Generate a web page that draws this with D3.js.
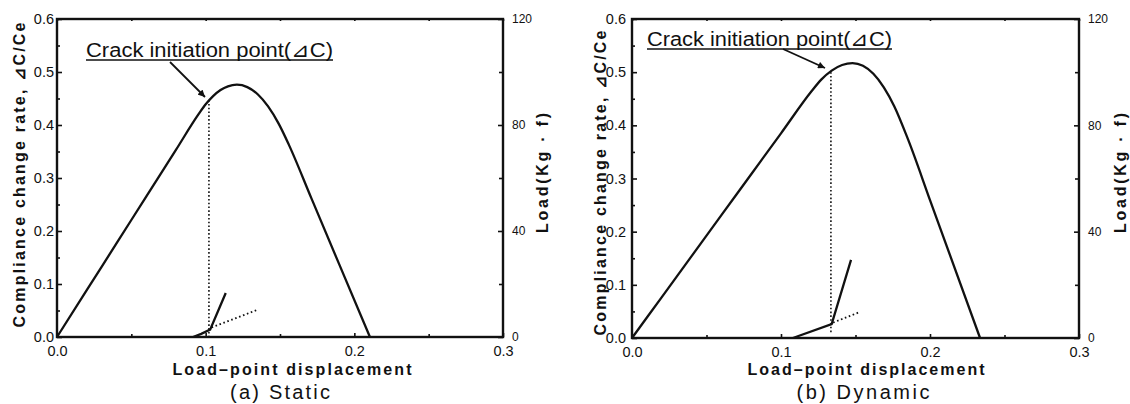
<!DOCTYPE html>
<html>
<head>
<meta charset="utf-8">
<script src="https://cdn.jsdelivr.net/npm/d3@7"></script>
<style>
  body { margin: 0; background: #fff; }
  svg { display: block; }
  text { font-family: "Liberation Sans", Arial, sans-serif; fill: #111; }
  .tick line { stroke: #111; stroke-width: 1.6; }
</style>
</head>
<body>
<div id="chart"></div>
<script>
// axis ticks
const dispTicks = [0, 0.1, 0.2, 0.3];
const dispMinor = [0.05, 0.15, 0.25];
const compTicks = [0, 0.1, 0.2, 0.3, 0.4, 0.5, 0.6];
const compMinor = [0.05, 0.15, 0.25, 0.35, 0.45, 0.55];
const loadTicks = [0, 40, 80, 120];
const loadMinor = [20, 60, 100];

// (a) static : load curve (kg f) vs load-point displacement
const staticDisp = [0, 0.02, 0.04, 0.06, 0.08, 0.095, 0.1, 0.105, 0.11, 0.115, 0.121, 0.128, 0.135, 0.142, 0.149, 0.156, 0.171, 0.19, 0.2105];
const staticLoad = [0, 17.7, 35.3, 53, 70.6, 83.9, 87.8, 90.9, 93.2, 94.6, 95.2, 94.3, 91.6, 87, 80.6, 72.5, 52.5, 27.2, 0];
// compliance change rate curve and its tangent
const staticCompDisp = [0.0915, 0.097, 0.103, 0.1135];
const staticComp = [0, 0.006, 0.014, 0.083];
const staticTanDisp = [0.104, 0.1345];
const staticTan = [0.018, 0.051];
const staticCrack = [0.1022, 0.447]; // disp, compliance

// (b) dynamic
const dynamicDisp = [0, 0.02, 0.04, 0.06, 0.08, 0.1, 0.1206, 0.127, 0.134, 0.141, 0.148, 0.155, 0.162, 0.169, 0.176, 0.1854, 0.2, 0.2336];
const dynamicLoad = [0, 15.4, 30.8, 46.2, 61.6, 77, 92.9, 97.2, 100.6, 102.7, 103.4, 102.4, 99.4, 94.3, 87.2, 74.5, 51.9, 0];
const dynamicCompDisp = [0.108, 0.134, 0.147];
const dynamicComp = [0, 0.026, 0.147];
const dynamicTanDisp = [0.135, 0.153];
const dynamicTan = [0.029, 0.049];
const dynamicCrack = [0.1335, 0.5];

const annText = "Crack initiation point(\u22BFC)";

const panels = [
  { caption: "(a) Static", disp: staticDisp, load: staticLoad,
    cDisp: staticCompDisp, comp: staticComp, tDisp: staticTanDisp, tan: staticTan,
    crack: staticCrack, crackLow: 0,
    l: 57, r: 503, t: 19, b: 337, lpad: 3,
    yTitle: [19, 175], rTitle: [542, 173], xTitle: [292, 369, 239], cap: [280, 392, 100],
    ann: [86, 57, 247], arrow: [170, 62, 205, 97] },
  { caption: "(b) Dynamic", disp: dynamicDisp, load: dynamicLoad,
    cDisp: dynamicCompDisp, comp: dynamicComp, tDisp: dynamicTanDisp, tan: dynamicTan,
    crack: dynamicCrack, crackLow: 0.009,
    l: 632, r: 1079, t: 19, b: 338, lpad: 6,
    yTitle: [600, 183], rTitle: [1120, 173], xTitle: [866, 369, 237], cap: [863, 392, 133],
    ann: [647, 46, 245], arrow: [783, 49, 825, 68] }
];

const svg = d3.select("#chart").append("svg")
  .attr("width", 1130)
  .attr("height", 404);

svg.append("defs").append("marker")
  .attr("id", "head")
  .attr("viewBox", "0 0 10 10")
  .attr("refX", 10).attr("refY", 5)
  .attr("markerWidth", 8).attr("markerHeight", 7)
  .attr("markerUnits", "userSpaceOnUse")
  .attr("orient", "auto")
  .append("path")
  .attr("d", "M0,0 L10,5 L0,10 Z")
  .attr("fill", "#111");

panels.forEach(p => {
  const x = d3.scaleLinear().domain([0, 0.3]).range([p.l, p.r]);
  const y = d3.scaleLinear().domain([0, 0.6]).range([p.b, p.t]);
  const yl = d3.scaleLinear().domain([0, 120]).range([p.b, p.t]);
  const g = svg.append("g");

  // axes with inward ticks
  const ax = (a, tr) => g.append("g").attr("transform", tr).call(a)
    .call(s => s.select(".domain").remove());

  ax(d3.axisBottom(x).tickValues(dispTicks).tickSize(-4).tickPadding(9).tickFormat(d3.format(".1f")),
    `translate(0,${p.b})`).selectAll("text").attr("font-size", 14.5);
  ax(d3.axisBottom(x).tickValues(dispMinor).tickSize(-3).tickFormat(""), `translate(0,${p.b})`);
  ax(d3.axisTop(x).tickValues(dispMinor.concat(dispTicks)).tickSize(-2).tickFormat(""), `translate(0,${p.t})`);

  ax(d3.axisLeft(y).tickValues(compTicks).tickSize(-5).tickPadding(p.lpad).tickFormat(d3.format(".1f")),
    `translate(${p.l},0)`).selectAll("text").attr("font-size", 14.5);
  ax(d3.axisLeft(y).tickValues(compMinor).tickSize(-3).tickFormat(""), `translate(${p.l},0)`);

  ax(d3.axisRight(yl).tickValues(loadTicks).tickSize(-5).tickPadding(9),
    `translate(${p.r},0)`).selectAll("text")
    .attr("font-size", 12)
    .style("font-family", '"Liberation Sans Narrow", "Liberation Sans", Arial, sans-serif');
  ax(d3.axisRight(yl).tickValues(loadMinor).tickSize(-4).tickFormat(""), `translate(${p.r},0)`);

  // frame
  g.append("rect")
    .attr("x", p.l).attr("y", p.t)
    .attr("width", p.r - p.l).attr("height", p.b - p.t)
    .attr("fill", "none").attr("stroke", "#111").attr("stroke-width", 2.4);

  // load curve
  const loadLine = d3.line()
    .x((d, i) => x(p.disp[i]))
    .y(d => yl(d))
    .curve(d3.curveMonotoneX);
  g.append("path")
    .attr("d", loadLine(p.load))
    .attr("fill", "none").attr("stroke", "#111").attr("stroke-width", 2.3);

  // compliance change rate
  const compLine = d3.line()
    .x((d, i) => x(p.cDisp[i]))
    .y(d => y(d));
  g.append("path")
    .attr("d", compLine(p.comp))
    .attr("fill", "none").attr("stroke", "#111").attr("stroke-width", 2.3);

  const tanLine = d3.line()
    .x((d, i) => x(p.tDisp[i]))
    .y(d => y(d));
  g.append("path")
    .attr("d", tanLine(p.tan))
    .attr("fill", "none").attr("stroke", "#111").attr("stroke-width", 1.8)
    .attr("stroke-dasharray", "1.6,2.6");

  // crack initiation vertical
  g.append("line")
    .attr("x1", x(p.crack[0])).attr("x2", x(p.crack[0]))
    .attr("y1", y(p.crack[1])).attr("y2", y(p.crackLow))
    .attr("stroke", "#111").attr("stroke-width", 1.6)
    .attr("stroke-dasharray", "1.6,2.2");

  // annotation
  g.append("text")
    .attr("x", p.ann[0]).attr("y", p.ann[1])
    .attr("font-size", 20)
    .attr("textLength", p.ann[2]).attr("lengthAdjust", "spacingAndGlyphs")
    .text(annText);
  g.append("line")
    .attr("x1", p.ann[0]).attr("x2", p.ann[0] + p.ann[2])
    .attr("y1", p.ann[1] + 3).attr("y2", p.ann[1] + 3)
    .attr("stroke", "#111").attr("stroke-width", 1.5);
  g.append("line")
    .attr("x1", p.arrow[0]).attr("y1", p.arrow[1])
    .attr("x2", p.arrow[2]).attr("y2", p.arrow[3])
    .attr("stroke", "#111").attr("stroke-width", 1.8)
    .attr("marker-end", "url(#head)");

  // axis titles
  g.append("text")
    .attr("transform", `translate(${p.yTitle[0]},${p.yTitle[1]}) rotate(-90)`)
    .attr("text-anchor", "middle").attr("dominant-baseline", "central")
    .attr("font-size", 16).attr("font-weight", "bold")
    .attr("textLength", 305).attr("lengthAdjust", "spacing")
    .text("Compliance change rate, \u22BFC/Ce");
  g.append("text")
    .attr("transform", `translate(${p.rTitle[0]},${p.rTitle[1]}) rotate(-90)`)
    .attr("text-anchor", "middle").attr("dominant-baseline", "central")
    .attr("font-size", 16).attr("font-weight", "bold")
    .attr("textLength", 120).attr("lengthAdjust", "spacing")
    .text("Load(Kg \u00B7 f)");
  g.append("text")
    .attr("x", p.xTitle[0]).attr("y", p.xTitle[1])
    .attr("text-anchor", "middle").attr("dominant-baseline", "central")
    .attr("font-size", 16).attr("font-weight", "bold")
    .attr("textLength", p.xTitle[2]).attr("lengthAdjust", "spacing")
    .text("Load\u2013point displacement");
  g.append("text")
    .attr("x", p.cap[0]).attr("y", p.cap[1])
    .attr("text-anchor", "middle").attr("dominant-baseline", "central")
    .attr("font-size", 20)
    .attr("textLength", p.cap[2]).attr("lengthAdjust", "spacing")
    .text(p.caption);
});
</script>
</body>
</html>
